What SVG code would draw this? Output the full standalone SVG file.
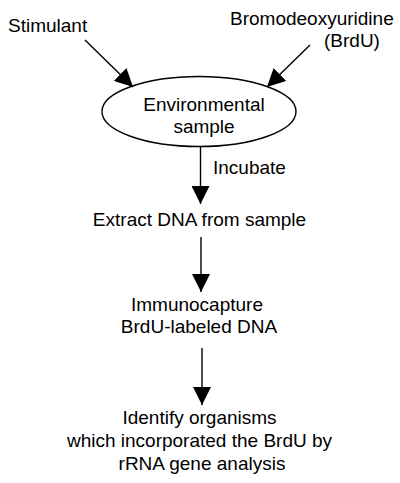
<svg xmlns="http://www.w3.org/2000/svg" width="400" height="483" viewBox="0 0 400 483">
  <style>
    text { font-family: "Liberation Sans", Arial, Helvetica, sans-serif; font-size: 19px; fill: #000; }
    .c { text-anchor: middle; }
    .conn line { stroke: #000; stroke-width: 1.4; fill: none; marker-end: url(#ah); }
  </style>
  <defs>
    <marker id="ah" viewBox="0 0 18 18" refX="18" refY="9" markerWidth="18" markerHeight="18" markerUnits="userSpaceOnUse" orient="auto">
      <path d="M0,0 L18,9 L0,18 z" fill="#000"/>
    </marker>
  </defs>
  <rect width="400" height="483" fill="#fff"/>

  <g id="stimulant">
    <text x="8" y="32">Stimulant</text>
  </g>
  <g id="brdu">
    <text x="230" y="25">Bromodeoxyuridine</text>
    <text x="324" y="47">(BrdU)</text>
  </g>
  <g id="sample">
    <ellipse cx="199" cy="111.5" rx="97" ry="35" fill="#fff" stroke="#000" stroke-width="1.4"/>
    <text class="c" x="204" y="111">Environmental</text>
    <text class="c" x="204" y="133">sample</text>
  </g>
  <g id="extract">
    <text class="c" x="199.5" y="226">Extract DNA from sample</text>
  </g>
  <g id="immuno">
    <text class="c" x="197" y="311">Immunocapture</text>
    <text class="c" x="199" y="333">BrdU-labeled DNA</text>
  </g>
  <g id="identify">
    <text class="c" x="199.5" y="424">Identify organisms</text>
    <text class="c" x="199.5" y="447">which incorporated the BrdU by</text>
    <text class="c" x="202" y="470">rRNA gene analysis</text>
  </g>

  <g id="connectors" class="conn">
    <line x1="85" y1="40" x2="133" y2="87"/>
    <line x1="310" y1="45" x2="267" y2="87"/>
    <line x1="200.5" y1="147" x2="200.5" y2="204"/>
    <line x1="201" y1="237" x2="201" y2="292"/>
    <line x1="202" y1="348" x2="202" y2="405"/>
  </g>
  <g id="incubate-label">
    <text x="213" y="174">Incubate</text>
  </g>
</svg>
